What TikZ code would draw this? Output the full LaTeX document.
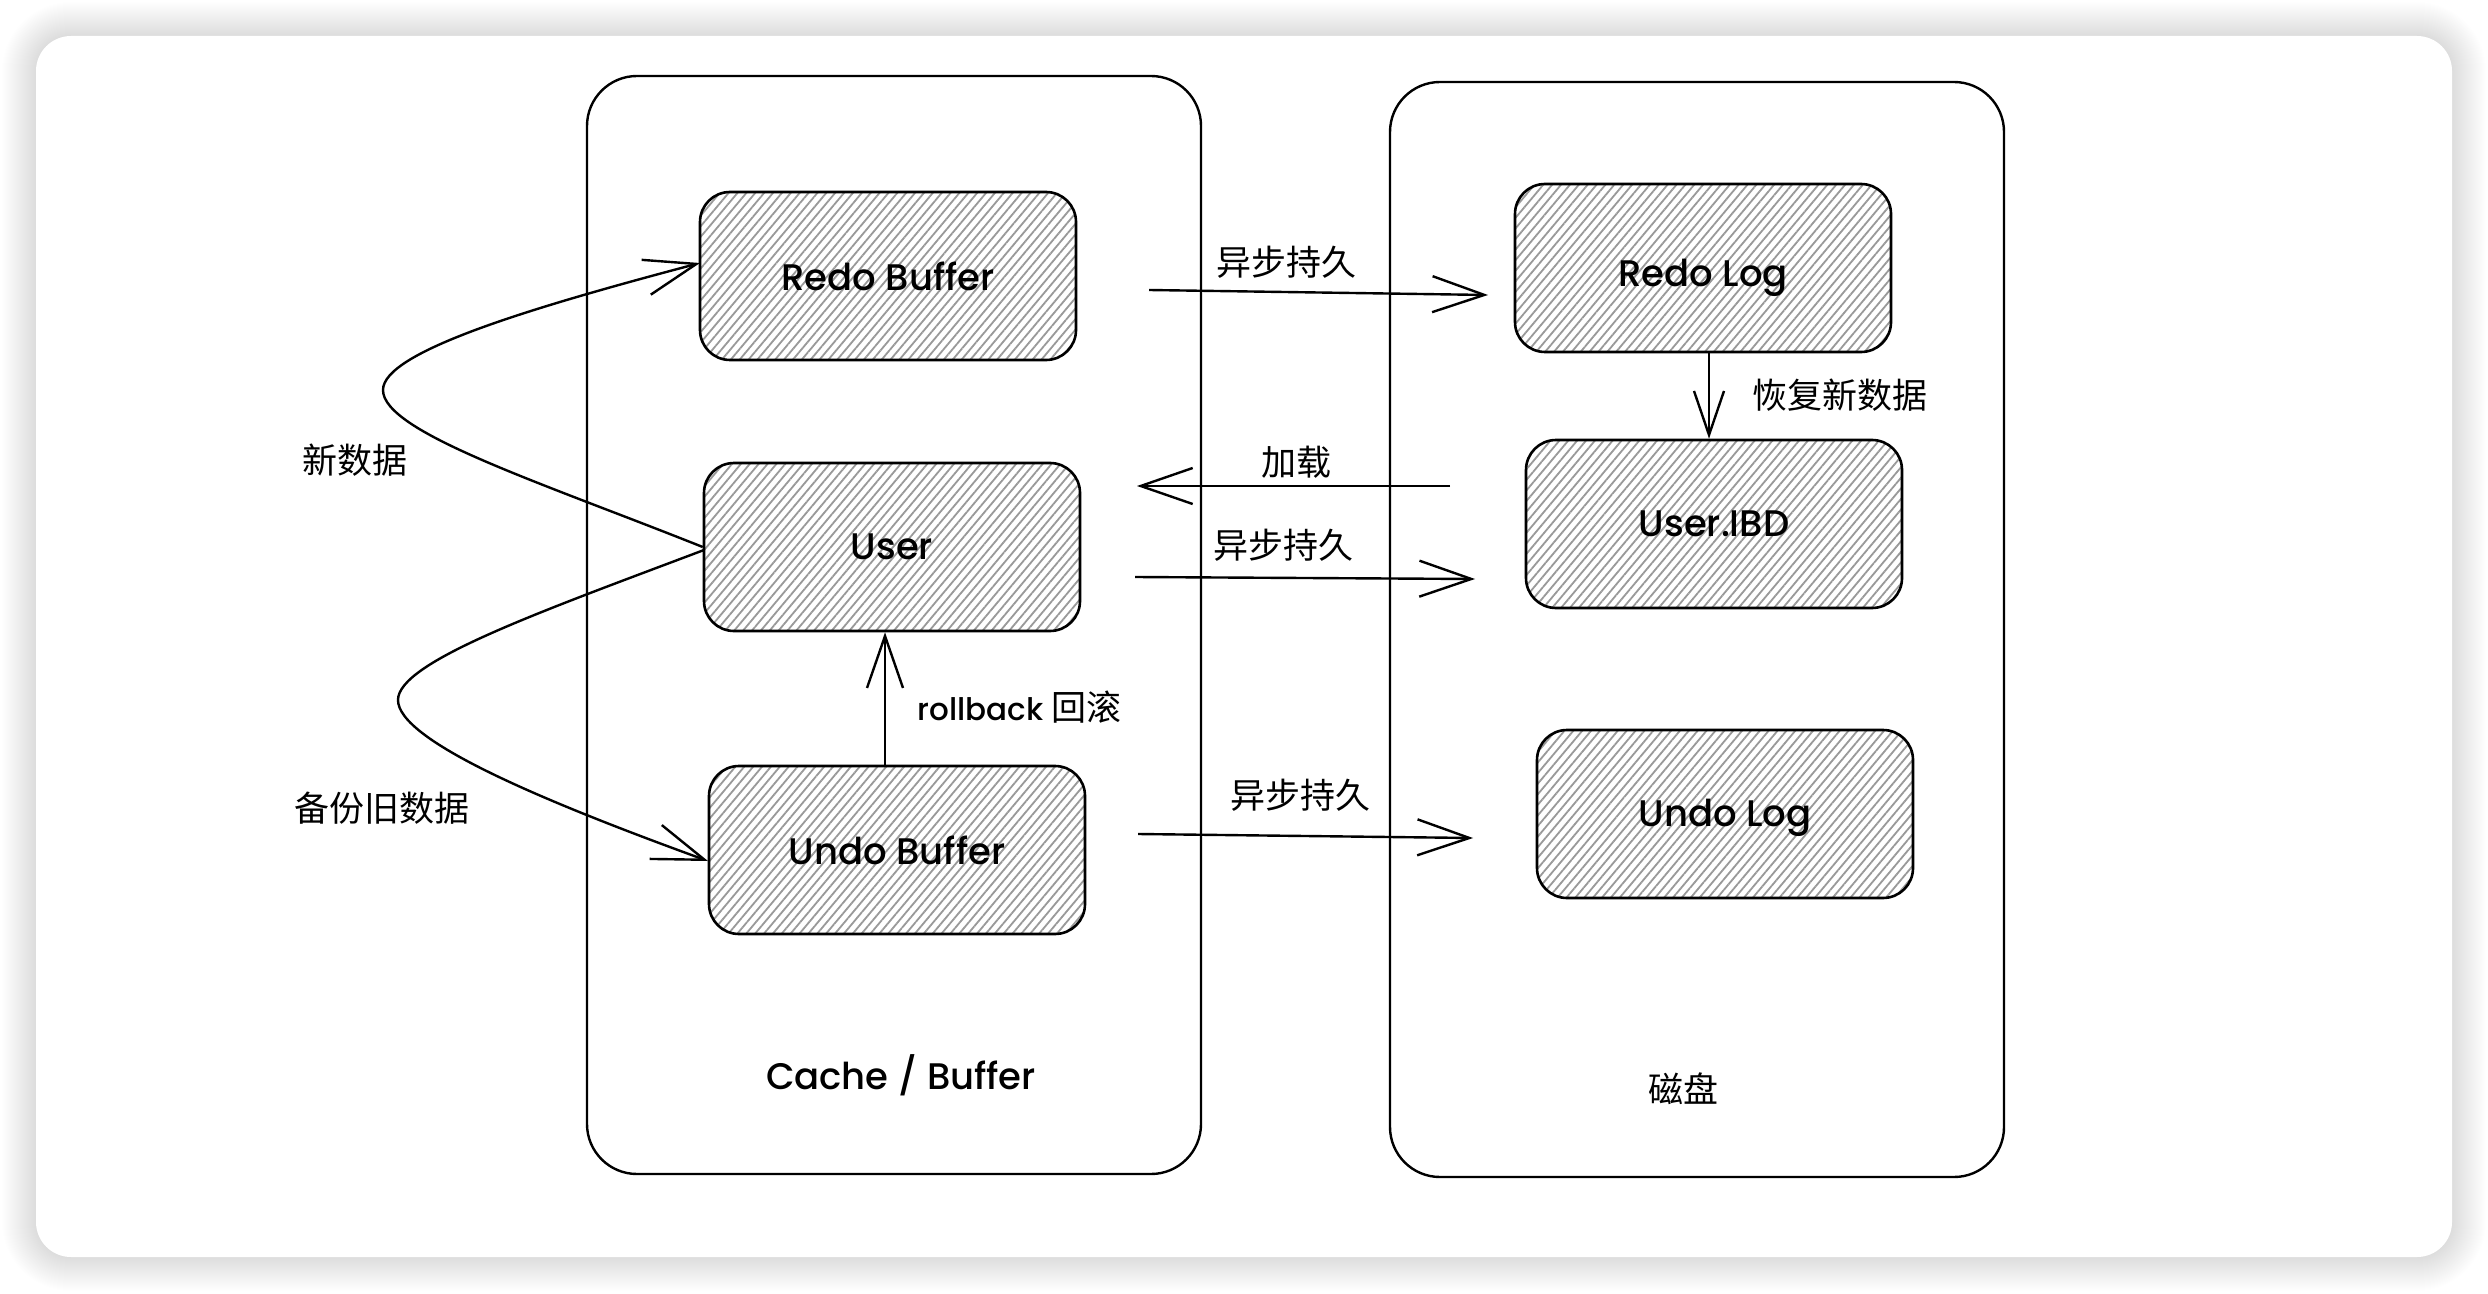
\documentclass[tikz,border=0pt]{standalone}
\usepackage{fontspec}
\setmainfont{Poppins}
\IfFontExistsTF{Poppins Medium}{\newfontfamily\handfont{Poppins Medium}}{\newfontfamily\handfont{Poppins}[UprightFont=*, UprightFeatures={FakeBold=0.6}]}
\newfontfamily\cjk{Noto Sans CJK SC}
\usetikzlibrary{arrows.meta,patterns.meta,calc}
\begin{document}
\begin{tikzpicture}[x=0.5pt,y=-0.5pt,
  box/.style={draw=black, line width=1.3pt, rounded corners=15pt,
    minimum width=188pt, minimum height=84pt, inner sep=0pt,
    font=\handfont\fontsize{18.5}{18.5}\selectfont,
    pattern={Lines[angle=50,distance=3.4pt,line width=0.9pt]}, pattern color=black!40},
  container/.style={draw=black, line width=1.2pt, rounded corners=25pt,
    minimum width=307pt, inner sep=0pt},
  hand/.style={font=\handfont\fontsize{18.5}{18.5}\selectfont, inner sep=0pt},
  smallhand/.style={font=\handfont\fontsize{15.5}{15.5}\selectfont, inner sep=0pt},
  cjklabel/.style={font=\cjk\fontsize{17.5}{17.5}\selectfont, inner sep=0pt},
  conn/.style={line width=1.2pt, -{Straight Barb[length=26pt,width=18pt,line width=1.2pt]}},
  connsmall/.style={line width=1.2pt, -{Straight Barb[length=22pt,width=15pt,line width=1.2pt]}},
]
\useasboundingbox (0,0) rectangle (2488,1294);
\fill[white] (0,0) rectangle (2488,1294);
% card shadow
\foreach \i in {1,...,34}{
  \pgfmathsetmacro\rr{17.5+\i*0.5}
  \fill[black, opacity=0.0045, rounded corners=\rr pt] (36-\i,36-\i) rectangle (2452+\i,1257+\i);
}
\fill[white, rounded corners=17.5pt] (36,36) rectangle (2452,1257);

% containers
\node[container, minimum height=549pt] (cache) at (894,625) {};
\node[container, minimum height=547.5pt] (disk) at (1697,629.5) {};
\node[hand] (cachelbl) at (901,1075) {Cache / Buffer};
\node[cjklabel] (disklbl) at (1683,1089) {磁盘};

% boxes
\node[box] (rb) at (888,276) {Redo Buffer};
\node[box] (usr) at (892,547) {User};
\node[box] (ub) at (897,850) {Undo Buffer};
\node[box] (rl) at (1703,268) {};
\node[hand, yshift=-5pt] (rltext) at (rl) {Redo Log};
\node[box] (uibd) at (1714,524) {User.IBD};
\node[box] (ul) at (1725,814) {};
\node[hand, yshift=-2pt] (ultext) at (ul) {Undo Log};

% horizontal arrows
\coordinate (a1s) at (1149,290); \coordinate (a1e) at (1488,295);
\coordinate (a2s) at (1450,486); \coordinate (a2e) at (1137,486);
\coordinate (a3s) at (1135,577); \coordinate (a3e) at (1475,579);
\coordinate (a4s) at (1138,834); \coordinate (a4e) at (1473,838);
\draw[conn] (a1s) -- (a1e);
\draw[conn] (a2s) -- (a2e);
\draw[conn] (a3s) -- (a3e);
\draw[conn] (a4s) -- (a4e);
\node[cjklabel] (l1) at (1286,262) {异步持久};
\node[cjklabel] (l2) at (1296,462) {加载};
\node[cjklabel] (l3) at (1283,545) {异步持久};
\node[cjklabel] (l4) at (1300,795) {异步持久};

% vertical arrows
\coordinate (vx1) at (1709,0);
\draw[connsmall] (rl.south -| vx1) -- (uibd.north -| vx1);
\node[cjklabel] (l5) at (1840,395) {恢复新数据};
\coordinate (vx2) at (885,0);
\draw[conn] (ub.north -| vx2) -- (usr.south -| vx2);
\node[smallhand, anchor=west] (l6) at (917,707) {rollback \cjk\fontsize{17.5}{17.5}\selectfont 回滚};

% curves
\coordinate (c1e) at (700,263);
\coordinate (c2s) at (704,550);
\coordinate (c2e) at (708,861);
\draw[conn] (usr.west) .. controls (540,482) and (383,432) .. (383,390)
  .. controls (383,352) and (530,308) .. (c1e);
\draw[conn] (c2s) .. controls (540,612) and (398,662) .. (398,700)
  .. controls (398,740) and (540,800) .. (c2e);
\node[cjklabel] (l7) at (355,460) {新数据};
\node[cjklabel] (l8) at (382,808) {备份旧数据};
\end{tikzpicture}
\end{document}
